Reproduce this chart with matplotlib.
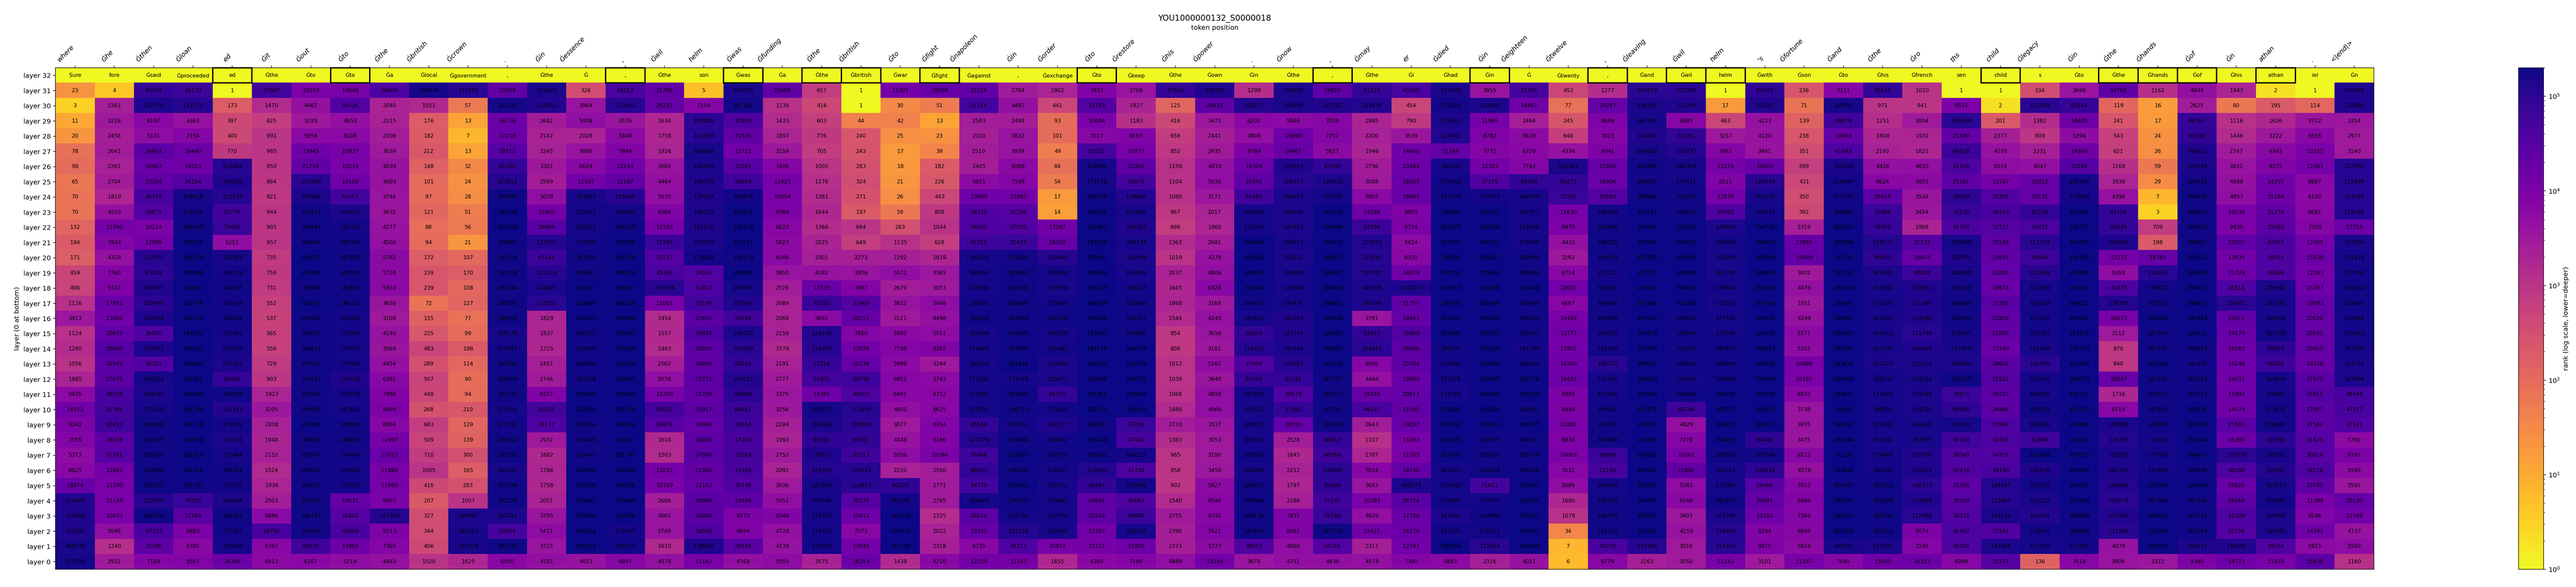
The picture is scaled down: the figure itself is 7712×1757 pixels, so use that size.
import numpy as np
import matplotlib
matplotlib.use("Agg")
import matplotlib.pyplot as plt
from matplotlib.colors import LogNorm
from matplotlib.patches import Rectangle

title = "YOU1000000132_S0000018"
input_tokens = ["where","Ġhe","Ġthen","Ġloan","ed","Ġit","Ġout","Ġto","Ġthe","Ġbritish","Ġcrown",".","Ġin","Ġessence",",","Ġwil","helm","Ġwas","Ġfunding","Ġthe","Ġbritish","Ġto","Ġfight","Ġnapoleon","Ġin","Ġorder","Ġto","Ġrestore","Ġhis","Ġpower",".","Ġnow",",","Ġmay","er","Ġdied","Ġin","Ġeighteen","Ġtwelve",",","Ġleaving","Ġwil","helm","'s","Ġfortune","Ġand","Ġthe","Ġro","ths","child","Ġlegacy","Ġin","Ġthe","Ġhands","Ġof","Ġn","athan",".","<|end|>"]
top_tokens = ["Sure","fore","Ġsaid","Ġproceeded","ed","Ġthe","Ġto","Ġto","Ġa","Ġlocal","Ġgovernment",",","Ġthe","Ġ",",","Ġthe","son","Ġwas","Ġa","Ġthe","Ġbritish","Ġwar","Ġfight","Ġagainst",",","Ġexchange","Ġto","Ġkeep","Ġthe","Ġown","Ġin","Ġthe",",","Ġthe","Ġi","Ġhad","Ġin","Ġ","Ġtwenty",",","Ġand","Ġwil","helm","Ġwith","Ġson","Ġto","Ġhis","Ġfrench","sen","child","s","Ġto","Ġthe","Ġhands","Ġof","Ġhis","athan","iel","Ġn"]
layers = list(range(32, -1, -1))

# ranks per column, layer 31 down to layer 0
c00=[23,3,11,20,78,98,65,70,70,132,194,171,459,496,1126,3413,1124,1280,1056,1885,5935,14352,9042,7555,5373,6625,18974,125401,138298,131651,164539,172719]
c01=[4,2343,3216,2458,2641,2261,2704,1819,4533,11990,7934,4328,7760,9327,17871,13900,20619,33690,26545,27678,48378,51395,62413,28108,32291,12882,11100,11149,10033,5049,1240,2932]
c02=[83593,147574,6197,5131,26824,16907,23304,48378,33675,10214,12999,117051,93928,134767,102099,142478,38500,137047,36353,160554,148281,171140,184918,189279,190103,189858,185105,120070,184570,47723,25390,7159]
c03=[66170,123775,4363,7154,16440,14553,34154,159818,179235,188199,193575,194179,191888,192681,193776,192711,194162,194262,194843,195352,194884,194798,191719,192936,192910,191326,182797,70455,27784,9883,6305,8567]
c04=[1,173,397,400,770,119662,140025,113159,57759,73461,5251,162983,181216,182265,181416,185851,175981,171033,157207,85082,182009,127743,173562,151161,171464,188761,177915,146804,184081,177355,172460,16348]
c05=[57087,1470,625,991,965,950,884,821,944,905,957,735,759,731,552,537,565,556,729,903,1923,3205,2208,1948,2152,1524,1936,2503,5886,48790,6767,6013]
c06=[10019,4467,3295,5959,13945,21719,110598,155686,182511,189443,190642,192637,191465,189306,192677,190282,188005,186412,187633,184227,187649,189636,192306,189636,182976,186578,184632,183820,186787,176980,59870,6167]
c07=[10646,34326,4653,6108,10827,10216,14109,53317,154927,181132,190341,187089,185154,182678,186321,181003,176563,179475,178594,140528,170159,167634,187659,188239,174643,179843,179523,19531,31603,46804,14960,5219]
c08=[38409,2040,2115,2508,3039,4034,4093,3746,3632,4177,4506,5782,5724,5933,3626,3108,4140,3569,4454,6381,7986,9808,6904,11697,17053,11089,11695,9967,127305,9213,7365,4443]
c09=[158036,1551,176,182,212,148,101,97,121,88,94,172,239,239,72,155,225,483,289,507,448,268,683,509,710,1005,416,207,327,344,406,1020]
c10=[112310,57,13,7,13,32,24,28,51,56,21,107,170,108,127,77,99,198,114,90,94,210,129,139,300,165,283,1007,150997,160214,157974,1625]
c11=[23059,167221,16726,17218,29711,81100,122815,189380,191538,193158,189807,190108,185108,187244,188555,189559,158178,179413,183891,186629,182533,170414,175215,186518,185552,164327,187146,182226,147323,53654,182071,6550]
c12=[156622,135612,2682,2142,2245,3301,2599,5039,12805,29904,123157,67424,113218,144871,110852,1829,1837,1725,2457,2746,8157,50325,38177,2932,1682,1786,1758,2057,3795,5411,3715,4751]
c13=[326,3964,5008,2028,3860,6624,12597,165022,171927,169212,177389,183362,185413,191917,192864,191321,188705,184410,186580,187108,191409,192501,188144,185349,187847,192096,191196,195461,196850,196164,196712,4021]
c14=[44512,113342,3576,5848,7984,13143,22187,116430,180992,188219,193396,194336,196010,196677,196156,195898,195293,195364,192810,193620,193639,195358,194544,193137,191547,192549,194676,193849,193956,179435,182274,6897]
c15=[21786,20252,1634,1758,1926,3964,4464,5035,8368,11583,71190,33125,45368,116618,11061,1454,1557,1463,2562,5078,11200,55023,29876,1616,1503,12037,10169,2606,3665,3749,1610,4578]
c16=[5,7154,105820,110209,164668,150285,140726,139183,149220,141570,153032,178160,34526,41812,55198,27657,39833,26265,24694,25751,21738,25917,20489,24865,27590,21565,21153,26988,29340,38568,138926,11142]
c17=[154533,167341,40819,21935,12722,31041,58059,180674,192872,191179,192217,190179,190954,164976,135941,59146,146010,105899,86262,130012,98988,68481,59054,47280,52269,47395,35738,23996,9275,8694,28458,4768]
c18=[22698,1136,1433,1897,3159,7406,11925,10054,9364,6823,5823,6046,3950,2576,2089,2068,2159,1579,2191,2777,3375,3256,2284,1993,2752,2092,3036,5051,8548,4728,4139,5555]
c19=[657,416,603,776,705,1005,1176,1381,1644,1366,2025,2301,4182,17335,73161,5691,124276,116955,77316,51605,14381,166715,150389,99102,139517,128346,163800,166744,173305,178702,175802,2075]
c20=[1,1,44,240,243,283,324,271,197,984,649,2273,3956,7897,32466,20212,7650,13076,20238,59756,40403,111895,103860,90157,62313,122442,110853,30275,15611,7073,13040,16153]
c21=[12301,30,42,25,17,18,21,26,59,283,1135,2292,5072,2679,3922,3121,5882,7739,5998,6952,6491,4800,3077,4148,5556,2220,96203,180390,192458,191674,191156,1438]
c22=[18568,51,13,23,39,182,226,443,808,1044,628,1819,3365,3053,5468,4498,5551,8265,3244,5743,6712,6625,8354,8166,10280,2550,2771,2765,1325,2022,2318,6210]
c23=[22226,51214,2583,2320,2510,2405,5651,13988,36725,38562,65315,169270,166458,170939,180656,183826,163409,171665,166524,171191,172381,173303,85588,129779,58968,88633,54779,166065,28014,19155,6735,12229]
c24=[2784,4487,2498,3832,3939,6088,7198,12983,31226,37529,71423,176405,181983,186530,188869,189049,186635,187695,191848,173249,189405,188773,181031,189456,191872,190340,191485,190552,173735,121526,38712,12143]
c25=[1902,441,93,101,49,84,54,17,14,13297,18320,118440,168344,157978,179566,182234,168250,181682,150346,155072,84375,173416,141277,180492,187162,176127,163072,174882,167478,163540,10972,1655]
c26=[7833,33793,10084,7017,51022,158966,172718,186356,192522,191863,193825,195667,195483,195225,194954,195240,193633,194116,192333,192668,191301,192201,189837,191249,186181,126683,92467,24842,25516,13387,11511,6360]
c27=[3708,1927,1183,8197,10577,25326,50679,128690,161845,140382,165134,154966,161078,180027,185916,185377,184609,194349,193478,193375,193847,195420,73194,47180,168122,41728,174688,40667,66880,163326,15950,7180]
c28=[77656,125,416,658,852,1159,1104,1080,867,698,1363,1019,2037,1645,1868,1544,854,808,1012,1039,1068,1486,2733,1383,965,958,902,1540,2755,2390,2373,4889]
c29=[138203,24830,3472,2441,2935,4810,5030,3172,2017,1860,2681,4278,4806,6328,3168,4245,3656,3181,5162,3640,4899,4966,3537,3053,3100,3450,5827,6546,6332,7621,5777,13248]
c30=[1299,126117,6202,4806,9789,16324,24342,61482,166919,172874,191444,193462,193042,193046,184312,163632,90254,118621,37609,83749,167351,161621,169431,167520,187628,168089,188051,189940,189136,183897,38651,3678]
c31=[149805,156939,5948,15690,18461,130993,108317,146051,148239,145621,160021,156331,163880,172648,170476,142529,141374,145149,120307,82242,39879,87391,20510,2528,1645,2212,1797,2296,7835,8562,4960,4751]
c32=[24924,133701,7058,7252,5827,87939,146418,172742,191294,194988,196110,196523,196481,196918,196801,195446,196302,195693,191158,187757,187577,187792,182599,88912,66569,104880,92466,57142,76148,187778,34326,4836]
c33=[81210,125479,1885,2200,1946,2736,3088,5905,14288,67534,127053,123545,127925,149078,148196,3791,83415,106912,6906,4444,18240,46247,2643,1107,1787,7014,3693,10383,4626,13415,2317,4578]
c34=[43540,454,790,3539,14400,15484,18205,16862,8905,9724,5824,6320,14578,142053,21757,19463,35869,26696,25704,18980,20813,21595,19187,11082,11355,19736,146273,28174,17156,16176,12741,7390]
c35=[154438,176516,153623,124843,21248,160702,176438,187259,190894,192079,197451,198508,198250,197913,196742,197547,195680,189577,176699,173576,172798,195284,195797,193383,192740,165727,175660,176883,145031,174731,198254,5883]
c36=[3955,143482,11985,8782,7772,12303,37379,177623,191072,192586,196731,196407,195680,195280,196349,195670,195575,195108,195095,193899,194386,194209,191603,187025,189203,184504,51611,174075,184895,178122,111814,2316]
c37=[51395,14481,2464,5628,6729,7742,91809,162509,167977,172886,176348,184994,188969,192408,190294,185442,182697,181149,189465,192276,190750,189821,191795,189157,189718,186746,193501,193743,195827,194973,196769,4021]
c38=[452,77,245,648,4334,151561,84273,72762,11630,9879,4432,3282,6714,12635,6667,10484,13773,12902,14700,16432,9965,9888,11082,8930,10003,7031,5089,1680,1078,34,7,6]
c39=[1277,20247,8699,7815,9041,17936,16906,33883,168748,183666,188822,190543,175522,188500,190047,188865,180632,181438,108752,172336,175841,189047,182832,189858,68939,51194,168380,190567,186095,182123,49220,6779]
c40=[105819,156195,162724,142741,160680,182485,180067,189962,194133,197405,197566,197850,197253,197928,197340,197616,197878,197800,198547,198000,197860,197478,195412,193168,192062,191944,192562,194495,195045,191265,115186,2263]
c41=[103294,131746,6985,91161,126772,166309,175411,182418,185851,191003,194741,194556,194028,194628,191038,185667,185546,182491,188392,179907,184864,60746,4829,7278,10261,21890,5383,6348,3403,4159,3016,3050]
c42=[1,17,463,3257,7662,11575,8521,12870,39782,149603,165693,161899,161750,179047,172285,177740,176700,185443,190096,189880,194738,195775,196137,193997,188538,162719,171087,182851,153749,116982,111953,11142]
c43=[94378,133267,4223,4120,3941,19200,110334,162332,179577,194702,198600,198769,198694,198295,197760,197029,197616,195624,195868,197064,193799,194285,194271,96449,175249,100634,28466,20491,15101,8294,8875,3101]
c44=[236,71,139,238,351,599,431,350,392,2319,17865,19649,3002,4476,3351,4249,5777,5355,10888,10187,6532,3738,3975,3475,6222,4578,7053,8484,7364,6898,5824,11167]
c45=[7111,160801,58876,19939,41443,155076,176084,173710,186984,195520,195098,195516,195312,195519,195467,194595,193993,192585,193639,194066,194677,194935,194457,192844,192585,193699,184957,195025,194123,192700,162923,7045]
c46=[85635,971,1251,1808,2193,4426,6624,26414,70486,78306,129177,95853,145805,161660,173165,163621,164015,165234,150275,166532,171949,169056,171992,162501,179484,180185,182510,182808,183836,185213,157185,13850]
c47=[1020,941,3004,1932,1821,4655,5803,3534,3454,1968,31233,18674,68628,139231,141391,134580,111746,140602,155151,159124,153299,154233,164248,163537,130876,138274,106373,134816,112488,9074,7248,16153]
c48=[1,9512,106039,21840,69528,41106,25381,99033,75132,42700,163298,139701,162898,181430,188604,185492,176655,157956,146604,183329,70971,99960,170031,59743,38349,37418,25566,30254,35271,42497,40281,6989]
c49=[1,2,201,2377,4195,5514,12547,35256,46716,31717,25148,22835,21000,18674,27381,22828,21950,17540,28601,31522,26525,26886,37996,40504,34758,49196,124447,123667,154155,37343,147966,31177]
c50=[334,112058,1382,909,2331,4847,19312,20131,81529,45031,111724,64560,113098,171299,167289,177241,176382,161493,102985,167790,169585,188135,159060,62989,192628,142276,174150,152312,126001,179642,171015,136]
c51=[3698,80164,14685,5394,14660,33198,165746,179560,191687,195377,194265,194358,195656,195787,196021,194412,193136,192773,193454,195073,195122,195250,194496,192351,195953,194856,194242,193840,189809,189946,177295,7018]
c52=[24760,119,241,543,621,1168,1938,4396,81758,84239,139892,12273,5263,41978,129385,10673,3112,870,840,18907,1716,6719,150861,126105,152657,147752,126949,105678,131580,111386,4078,3906]
c53=[1162,16,17,24,26,59,29,7,3,709,198,18785,112653,174827,187315,191928,187554,187795,191569,187742,183825,187805,183982,171835,177380,177966,191385,187508,190925,191368,191919,3322]
c54=[4848,2625,84363,90248,140021,154974,180016,184945,189322,183829,189667,193122,193662,196017,196507,195464,194431,188114,181476,187519,187611,191838,193388,193264,194141,188949,194304,182340,185719,187054,146272,9380]
c55=[1943,60,1116,1446,2747,3832,4588,4857,10535,9836,23037,13835,15729,38514,106671,23072,19179,16582,15246,14031,15492,14579,27546,16390,107378,40286,18820,24544,41208,33236,130592,14771]
c56=[2,195,1626,3222,6343,8375,14255,15184,21278,25583,42075,39051,40686,154392,161741,160454,167706,98073,66356,163864,168982,175674,179891,103866,160561,129397,163073,175482,155499,145065,39164,11078]
c57=[1,114,3712,6556,10225,12361,6667,6100,6681,7500,12305,15538,12193,15767,19582,20120,20051,20420,19316,27470,32815,27907,27584,31826,30916,38178,25730,11398,8246,14391,5915,25839]
c58=[142640,138080,3354,2977,3140,117702,115498,114595,118399,17316,153509,171515,177762,185234,185407,176668,176063,167303,153701,147094,48444,47377,37181,5760,9781,5599,3595,20130,12769,4137,5590,1160]

columns = [c00,c01,c02,c03,c04,c05,c06,c07,c08,c09,c10,c11,c12,c13,c14,c15,c16,c17,c18,c19,
           c20,c21,c22,c23,c24,c25,c26,c27,c28,c29,c30,c31,c32,c33,c34,c35,c36,c37,c38,c39,
           c40,c41,c42,c43,c44,c45,c46,c47,c48,c49,c50,c51,c52,c53,c54,c55,c56,c57,c58]

W, H = 7712, 1757
body = np.array(columns).T
matrix = np.vstack([np.ones((1, len(columns)), dtype=int), body])  # layer 32 sits on top with rank 1

fig = plt.figure(figsize=(W / 144, H / 144), dpi=144)
ax = fig.add_axes([166 / W, 1 - 1704 / H, (7107 - 166) / W, (1704 - 203) / H])
im = ax.imshow(matrix, aspect="auto", cmap="plasma_r", norm=LogNorm(vmin=1, vmax=200000),
               interpolation="nearest")

ax.xaxis.tick_top()
ax.xaxis.set_label_position("top")
ax.set_xticks(range(len(input_tokens)))
ax.set_xticklabels(input_tokens, rotation=45, ha="right", style="italic")
ax.set_yticks(range(len(layers)))
ax.set_yticklabels([f"layer {n}" for n in layers])
ax.set_xlabel("token position")
ax.set_ylabel("layer (0 at bottom)")
ax.set_title(title)

for j, tok in enumerate(top_tokens):
    ax.text(j, 0, tok, ha="center", va="center", fontsize=8, color="black")
    if tok == input_tokens[j]:
        ax.add_patch(Rectangle((j - 0.5, -0.5), 1, 1, fill=False, edgecolor="black", lw=2, clip_on=False, zorder=3))
for i in range(1, matrix.shape[0]):
    for j in range(matrix.shape[1]):
        ax.text(j, i, str(matrix[i, j]), ha="center", va="center", fontsize=8, color="black")

cax = fig.add_axes([7540 / W, 1 - 1704 / H, 75 / W, (1704 - 203) / H])
cbar = fig.colorbar(im, cax=cax)
cbar.set_label("rank (log scale, lower=deeper)")

fig.savefig("out.png", dpi=144)
